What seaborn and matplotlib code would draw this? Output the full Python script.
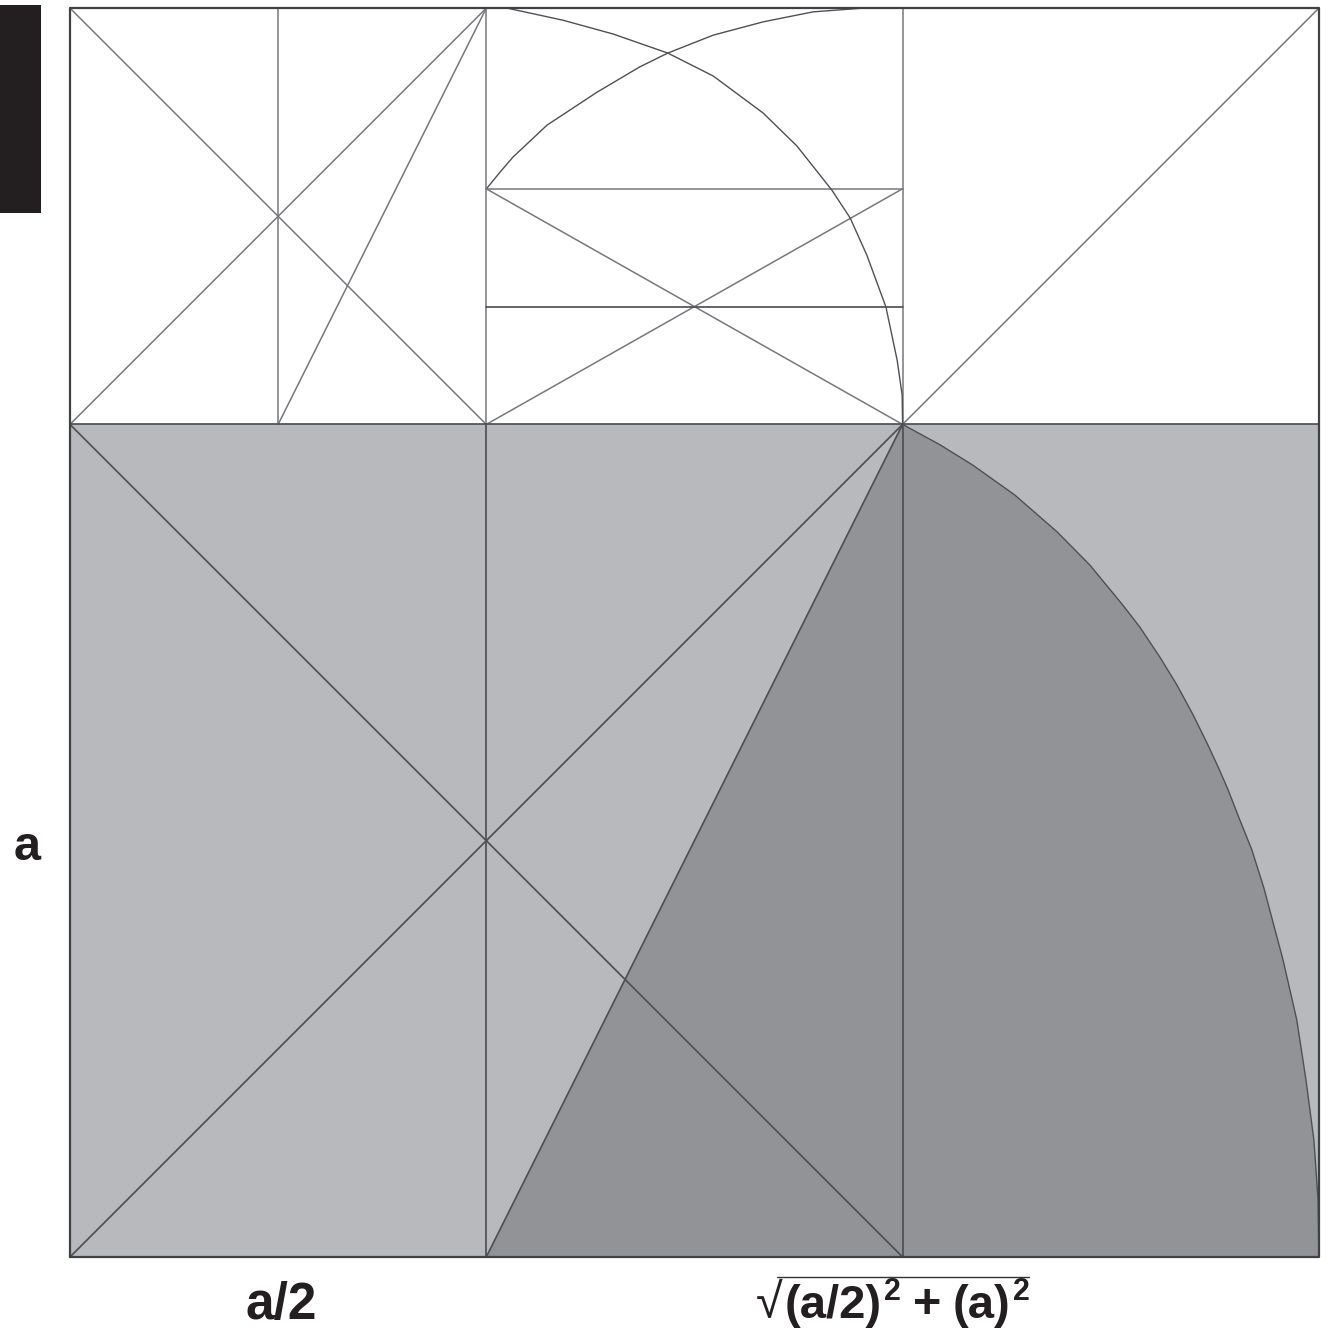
import pandas as pd
import matplotlib.pyplot as plt
import seaborn as sns

# colours
LIGHT = "#b8b9bd"
DARK = "#929397"
BLACK = "#231f20"
LINE = "#4f5054"
LINE_THIN = "#77787c"

# grid units: one cell (416 px) = 1
frame_x = [0, 3, 3, 0, 0]
frame_y = [0, 0, 3, 3, 0]

# heavier construction lines
heavy_lines = {
    "mid_h": ([0, 3], [2, 2]),
    "v1": ([1, 1], [0, 2]),
    "v2": ([2, 2], [0, 2]),
    "diag_a": ([0, 2], [0, 2]),
    "diag_b": ([0, 2], [2, 0]),
    "hyp": ([1, 2], [0, 2]),
    "band_h2": ([1, 2], [2.283, 2.283]),
}

# thin lines of the upper band
thin_lines = {
    "top_v1": ([1, 1], [2, 3]),
    "top_v2": ([2, 2], [2, 3]),
    "half_v": ([0.5, 0.5], [2, 3]),
    "sq_a": ([0, 1], [2, 3]),
    "sq_b": ([0, 1], [3, 2]),
    "sq_c": ([0.5, 1], [2, 3]),
    "right_diag": ([2, 3], [2, 3]),
    "band_h1": ([1, 2], [2.566, 2.566]),
    "band_a": ([1, 2], [2.566, 2]),
    "band_b": ([1, 2], [2, 2.566]),
}

# big arc bounding the dark area
big_arc_x = [2.000, 2.090, 2.169, 2.270, 2.371, 2.450, 2.529, 2.570, 2.618, 2.659, 2.698,
             2.731, 2.758, 2.782, 2.810, 2.839, 2.868, 2.914, 2.947, 2.969, 2.988, 2.998, 3.000]
big_arc_y = [2.000, 1.951, 1.902, 1.830, 1.742, 1.662, 1.566, 1.513, 1.441, 1.374, 1.302,
             1.235, 1.177, 1.122, 1.050, 0.978, 0.886, 0.713, 0.569, 0.425, 0.281, 0.137, 0.000]

# the two small arcs in the upper band
arc_a_x = [1.050, 1.184, 1.304, 1.436, 1.545, 1.665, 1.746, 1.830, 1.874, 1.914, 1.960, 1.987, 1.999, 2.000]
arc_a_y = [3.000, 2.971, 2.938, 2.892, 2.837, 2.748, 2.669, 2.563, 2.496, 2.407, 2.282, 2.154, 2.070, 2.000]
arc_b_x = [1.002, 1.033, 1.064, 1.146, 1.266, 1.369, 1.436, 1.545, 1.665, 1.785, 1.905]
arc_b_y = [2.568, 2.606, 2.642, 2.719, 2.798, 2.859, 2.892, 2.935, 2.967, 2.991, 3.000]

# black tab at top left, cut by the page edge
tab_x = [-0.17, -0.0697]
tab_top = 3.007
tab_bottom = 2.508

# rule over the root sign
root_x = [1.698, 2.304]
root_y = [-0.048, -0.048]


def long_table(lines):
    rows = []
    for name, (xs, ys) in lines.items():
        for x, y in zip(xs, ys):
            rows.append({"seg": name, "x": x, "y": y})
    return pd.DataFrame(rows)


def curve(xs, ys, color, lw, z=3):
    sns.lineplot(x=xs, y=ys, color=color, lw=lw, estimator=None, sort=False, ax=ax, zorder=z)


sns.set_theme(style="white")
plt.rcParams["font.family"] = ["Liberation Sans", "DejaVu Sans"]

fig = plt.figure(figsize=(13.35, 13.34), dpi=100)
ax = fig.add_axes([0, 0, 1, 1])
ax.set_xlim(-0.1681, 3.0387)
ax.set_ylim(-0.185, 3.0195)
ax.axis("off")

# fills
ax.fill_between([0, 3], 0, 2, color=LIGHT, lw=0, zorder=1)
ax.fill([1] + big_arc_x + [1], [0] + big_arc_y + [0], color=DARK, lw=0, zorder=2)
ax.fill_between(tab_x, tab_bottom, tab_top, color=BLACK, lw=0, zorder=2)

# lines
kw = dict(x="x", y="y", units="seg", estimator=None, sort=False, legend=False, ax=ax, zorder=3)
sns.lineplot(data=long_table(thin_lines), color=LINE_THIN, lw=1.1, **kw)
sns.lineplot(data=long_table(heavy_lines), color=LINE, lw=1.25, **kw)
curve(arc_a_x, arc_a_y, LINE, 1.0)
curve(arc_b_x, arc_b_y, LINE, 1.0)
curve(big_arc_x, big_arc_y, LINE, 1.0)
curve(frame_x, frame_y, "#404145", 1.6, z=4)
curve(root_x, root_y, "#333333", 1.0, z=4)

# labels
bold = dict(fontweight="bold", color=BLACK, va="baseline")
ax.text(-0.103, 0.954, "a", fontsize=35, ha="center", **bold)
ax.text(0.507, -0.149, "a/2", fontsize=37, ha="center", **bold)
ax.text(1.717, -0.147, "(a/2)", fontsize=34, ha="left", **bold)
ax.text(1.955, -0.103, "2", fontsize=22, ha="left", **bold)
ax.text(2.059, -0.147, "+", fontsize=35, ha="center", **bold)
ax.text(2.119, -0.147, "(a)", fontsize=34, ha="left", **bold)
ax.text(2.265, -0.103, "2", fontsize=22, ha="left", **bold)
ax.text(1.648, -0.147, "√", fontsize=35, color=BLACK, ha="left", va="baseline")

fig.savefig("out.png", dpi=100)
